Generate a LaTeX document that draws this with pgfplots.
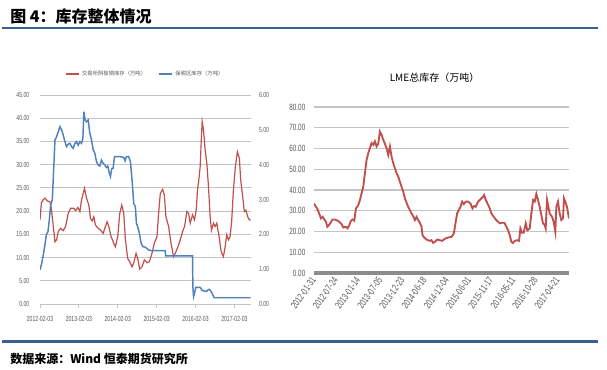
\documentclass[border=0pt]{standalone}
\usepackage{pgfplots}
\pgfplotsset{compat=1.18}
\usepackage{fontspec}
\setmainfont{Liberation Sans}
\newfontfamily\narrowfont[FakeStretch=0.7]{Liberation Sans}
\newfontfamily\cjk{Noto Sans CJK SC}
\definecolor{xred}{HTML}{C0504D}
\definecolor{xblue}{HTML}{4F81BD}
\definecolor{hdr}{HTML}{3B5F8E}
\definecolor{gridc}{HTML}{C4C4C4}
\definecolor{tickc}{HTML}{595959}
\definecolor{zeroc}{HTML}{8C8C8C}

\pgfplotstableread{
x y
0.000 18.1
0.034 21.7
0.085 22.5
0.128 22.8
0.188 22.2
0.256 22.0
0.291 20.6
0.342 16.7
0.385 13.4
0.427 13.8
0.470 15.6
0.530 16.3
0.598 15.8
0.658 16.7
0.726 19.5
0.786 20.6
0.872 20.6
0.915 20.1
0.974 20.8
1.026 19.9
1.068 22.4
1.145 24.9
1.197 22.8
1.256 21.3
1.299 18.4
1.342 17.9
1.385 18.8
1.427 17.0
1.496 16.3
1.556 15.9
1.624 15.2
1.684 16.7
1.726 17.7
1.769 16.7
1.829 14.5
1.897 13.1
1.940 12.3
2.000 14.5
2.051 19.5
2.103 21.3
2.154 19.5
2.197 13.8
2.256 9.8
2.308 9.1
2.368 8.0
2.410 8.8
2.470 10.9
2.513 9.8
2.564 7.5
2.624 8.0
2.684 9.5
2.752 8.9
2.812 9.1
2.880 10.9
2.940 13.1
3.009 14.5
3.051 19.5
3.094 23.8
3.154 24.7
3.197 23.5
3.239 18.8
3.308 16.7
3.368 13.1
3.436 10.2
3.479 10.9
3.547 12.3
3.607 13.8
3.667 15.6
3.718 16.7
3.778 19.9
3.821 19.5
3.863 17.4
3.923 19.2
3.974 18.1
4.017 20.2
4.051 24.5
4.094 27.4
4.120 29.6
4.145 34.6
4.171 39.3
4.205 37.5
4.248 33.2
4.291 30.3
4.333 25.3
4.376 18.8
4.410 15.9
4.462 17.4
4.504 16.7
4.547 17.4
4.607 14.5
4.658 11.3
4.718 10.2
4.761 12.3
4.803 14.9
4.846 13.8
4.889 14.5
4.932 18.1
4.974 24.5
5.026 29.6
5.077 32.8
5.128 31.4
5.162 26.7
5.214 23.1
5.256 19.9
5.299 20.2
5.342 18.8
5.385 18.1
5.419 18.2
}\shfe

\pgfplotstableread{
x y
0.000 0.98
0.034 1.12
0.077 1.36
0.120 1.65
0.162 1.98
0.205 2.08
0.239 2.41
0.274 2.84
0.316 2.99
0.359 4.04
0.385 4.71
0.427 4.80
0.470 4.95
0.513 5.09
0.556 5.00
0.598 4.85
0.641 4.66
0.684 4.52
0.726 4.59
0.769 4.61
0.812 4.52
0.855 4.47
0.897 4.61
0.940 4.66
0.983 4.56
1.026 4.66
1.068 4.61
1.103 4.76
1.128 5.52
1.162 5.28
1.197 5.23
1.239 5.28
1.282 4.90
1.325 4.71
1.368 4.42
1.410 4.33
1.453 4.09
1.496 3.99
1.538 3.96
1.581 4.13
1.624 4.04
1.667 3.99
1.709 3.92
1.744 3.96
1.786 3.75
1.812 3.66
1.846 3.89
1.880 3.89
1.915 4.23
2.060 4.23
2.154 4.21
2.188 4.11
2.222 4.23
2.282 4.23
2.325 4.09
2.368 3.56
2.410 2.89
2.453 2.79
2.479 2.32
2.513 2.22
2.556 2.03
2.598 1.76
2.641 1.65
2.709 1.63
2.795 1.55
2.880 1.53
3.222 1.53
3.231 1.38
3.923 1.38
3.932 0.50
3.949 0.21
3.974 0.31
4.009 0.48
4.120 0.48
4.162 0.40
4.222 0.37
4.291 0.37
4.333 0.42
4.376 0.40
4.427 0.31
4.479 0.18
5.419 0.18
}\bonded

\pgfplotstableread{
x y
0.000 33.5
0.090 31.9
0.165 30.6
0.240 28.4
0.315 26.3
0.390 27.1
0.465 25.8
0.541 24.7
0.601 22.3
0.676 23.1
0.751 24.2
0.826 25.8
0.916 25.8
1.021 25.5
1.141 24.7
1.246 23.5
1.321 21.9
1.426 22.3
1.517 21.5
1.592 23.1
1.667 25.2
1.742 25.8
1.817 25.2
1.892 31.1
1.997 32.7
2.072 35.2
2.147 38.4
2.222 41.6
2.297 48.1
2.372 54.5
2.447 57.7
2.523 60.2
2.598 62.6
2.673 61.8
2.748 63.4
2.823 61.0
2.898 62.3
2.973 68.2
3.048 66.6
3.123 64.2
3.198 62.3
3.273 60.2
3.348 56.9
3.423 61.0
3.498 56.1
3.574 52.9
3.649 50.5
3.724 48.1
3.799 46.5
3.874 44.0
3.949 41.6
4.024 39.2
4.099 36.0
4.174 33.9
4.249 31.9
4.324 30.3
4.399 28.7
4.474 27.4
4.550 25.5
4.625 27.1
4.700 25.5
4.775 24.2
4.850 22.3
4.895 18.2
4.970 17.1
5.075 16.1
5.225 15.5
5.300 15.8
5.375 14.5
5.450 15.0
5.556 16.1
5.676 15.8
5.781 15.5
5.901 16.5
6.051 17.1
6.201 17.4
6.306 19.0
6.381 23.9
6.456 28.7
6.532 30.3
6.607 31.9
6.682 34.4
6.757 33.2
6.847 34.4
6.952 34.4
7.057 33.5
7.147 31.1
7.222 32.3
7.297 31.9
7.402 34.4
7.477 35.2
7.553 36.0
7.628 36.8
7.673 37.6
7.748 35.2
7.823 33.5
7.898 31.9
8.003 28.7
8.108 27.1
8.198 25.8
8.303 24.7
8.378 23.9
8.483 24.2
8.589 24.2
8.679 22.3
8.754 20.6
8.829 18.2
8.904 15.0
8.979 14.5
9.054 15.5
9.159 15.8
9.249 15.5
9.309 21.5
9.384 19.4
9.459 19.4
9.550 23.9
9.625 20.6
9.730 21.5
9.805 28.7
9.880 35.2
9.955 34.4
10.030 38.1
10.105 35.2
10.180 31.9
10.255 27.9
10.330 23.9
10.405 23.1
10.450 21.5
10.511 35.2
10.571 31.9
10.631 28.7
10.736 27.1
10.811 24.7
10.886 19.8
10.931 31.9
11.006 34.4
11.081 28.7
11.156 25.5
11.231 26.3
11.276 36.0
11.336 34.4
11.411 31.9
11.502 26.3
}\lme

\begin{document}
\begin{tikzpicture}
\path[use as bounding box, fill=white] (0,0) rectangle (455.25pt,276.75pt);

% header and footer
\node[anchor=west, inner sep=0pt, font=\cjk\bfseries\fontsize{12}{14}\selectfont] at (7.5pt,264.5pt) {图 4：库存整体情况};
\draw[hdr, line width=1.6pt] (1.5pt,255.75pt) -- (448.5pt,255.75pt);
\draw[hdr, line width=1.6pt] (1.5pt,20.6pt) -- (448.5pt,20.6pt);
\node[anchor=west, inner sep=0pt, font=\cjk\bfseries\fontsize{9}{11}\selectfont] at (7.5pt,7.5pt) {数据来源：Wind 恒泰期货研究所};

% left chart, left axis
\begin{axis}[at={(30pt,48.75pt)}, anchor=south west, scale only axis,
  width=158.25pt, height=156.75pt,
  xmin=0, xmax=5.427, ymin=0, ymax=45,
  ytick={0,5,...,45},
  xtick={0,1,2,3,4,5},
  xticklabels={2012-02-03,2013-02-03,2014-02-03,2015-02-03,2016-02-03,2017-02-03},
  axis x line*=bottom, axis y line*=left,
  y axis line style={draw=none},
  x axis line style={gridc, line width=0.75pt},
  ymajorgrids, grid style={gridc, line width=0.75pt},
  tick align=outside, major tick length=3pt,
  xtick style={gridc, line width=0.6pt}, ytick style={draw=none},
  /pgf/number format/assume math mode=true,
  ticklabel style={font=\narrowfont\fontsize{5.5}{6}\selectfont, text=tickc},
  yticklabel style={/pgf/number format/.cd, fixed, fixed zerofill, precision=2, /tikz/.cd, xshift=-1.5pt},
  xticklabel style={yshift=-2.5pt},
]
\addplot[xred, line width=0.9pt] table[x=x, y=y] {\shfe};
\end{axis}

% left chart, right axis
\begin{axis}[at={(30pt,48.75pt)}, anchor=south west, scale only axis,
  width=158.25pt, height=156.75pt,
  xmin=0, xmax=5.427, ymin=0, ymax=6,
  ytick={0,1,...,6},
  xtick=\empty,
  axis x line=none, axis y line*=right,
  y axis line style={draw=none}, ytick style={draw=none},
  /pgf/number format/assume math mode=true,
  ticklabel style={font=\narrowfont\fontsize{5.5}{6}\selectfont, text=tickc},
  yticklabel style={/pgf/number format/.cd, fixed, fixed zerofill, precision=2, /tikz/.cd, xshift=2.5pt},
  legend style={at={(0.5,1.10)}, anchor=center, draw=none, fill=none,
    font=\cjk\fontsize{4}{5}\selectfont, text=tickc, legend columns=2,
    /tikz/every even column/.append style={column sep=7pt}},
  legend image code/.code={\draw[#1, line width=1.2pt] (0pt,0pt) -- (9.75pt,0pt);},
]
\addlegendimage{xred}
\addlegendentry{交易所阴极铜库存（万吨）}
\addplot[xblue, line width=1.1pt] table[x=x, y=y] {\bonded};
\addlegendentry{保税区库存（万吨）}
\end{axis}

% right chart
\node[font=\cjk\fontsize{7.5}{9}\selectfont, inner sep=0pt] at (325.9pt,218.25pt) {LME总库存（万吨）};
\begin{axis}[at={(235.5pt,72pt)}, anchor=south west, scale only axis,
  width=191.25pt, height=124.5pt,
  xmin=0, xmax=11.502, ymin=0, ymax=80,
  ytick={0,10,...,80},
  xtick={0,1,...,11},
  xticklabels={2012-01-31,2012-07-24,2013-01-14,2013-07-05,2013-12-23,2014-06-18,2014-12-04,2015-06-01,2015-11-17,2016-05-11,2016-10-28,2017-04-21},
  axis x line*=bottom, axis y line*=left,
  y axis line style={draw=none},
  x axis line style={zeroc, line width=3pt},
  ymajorgrids, grid style={gridc, line width=0.9pt},
  xtick style={draw=none}, ytick style={draw=none},
  /pgf/number format/assume math mode=true,
  yticklabel style={font=\narrowfont\fontsize{6.8}{7}\selectfont, text=tickc,
    /pgf/number format/.cd, fixed, fixed zerofill, precision=2, /tikz/.cd, xshift=-3pt},
  xticklabel style={font=\narrowfont\fontsize{7.5}{8}\selectfont, text=tickc,
    rotate=55, anchor=east, yshift=-2pt},
]
\addplot[xred, line width=1.4pt] table[x=x, y=y] {\lme};
\end{axis}
\end{tikzpicture}
\end{document}
